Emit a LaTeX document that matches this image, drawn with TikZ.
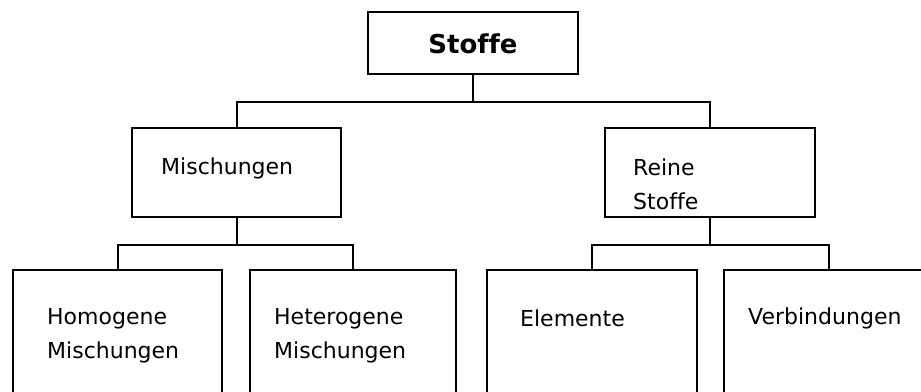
\documentclass[tikz,border=0pt]{standalone}
\usepackage{fontspec}
\setmainfont[Ligatures={NoCommon}]{DejaVu Sans}
\begin{document}
\begin{tikzpicture}[x=1pt,y=-1pt,
  box/.style={draw=black,line width=2.2pt,minimum width=#1,inner sep=0pt,anchor=north west},
  conn/.style={draw=black,line width=2.2pt},
  lbl/.style={inner sep=0pt,anchor=west,align=left,font=\fontsize{22}{34}\selectfont}]
\useasboundingbox[fill=white] (0,0) rectangle (921,391);
\begin{scope}
\clip (0,0) rectangle (921,391);
\node[box=210pt,minimum height=62pt] (stoffe) at (367,11) {};
\node[font=\bfseries\fontsize{26}{30}\selectfont,inner sep=0pt] at (473,44) {Stoffe};
\node[box=209pt,minimum height=89pt] (misch) at (131,127) {};
\node[box=210pt,minimum height=89pt] (reine) at (604,127) {};
\node[box=209pt,minimum height=140pt] (homo) at (12,269) {};
\node[box=206pt,minimum height=140pt] (hetero) at (249,269) {};
\node[box=210pt,minimum height=140pt] (elem) at (486,269) {};
\node[box=210pt,minimum height=140pt] (verb) at (723,269) {};
\node[lbl] (tmisch) at (161,168) {Mischungen};
\node[lbl] (treine) at (633,184) {Reine\\Stoffe};
\node[lbl] (thomo) at (47,336) {Homogene\\Mischungen};
\node[lbl] (thetero) at (274,336) {Heterogene\\Mischungen};
\node[lbl] (telem) at (520,318) {Elemente};
\node[lbl] (tverb) at (748,318) {Verbindungen};
\draw[conn] (stoffe.south) -- ++(0,27) -| (misch.north);
\draw[conn] (stoffe.south) -- ++(0,27) -| (reine.north);
\draw[conn] (misch.south) -- ++(0,27) -| (homo.north);
\draw[conn] (misch.south) -- ++(0,27) -| (hetero.north);
\draw[conn] (reine.south) -- ++(0,27) -| (elem.north);
\draw[conn] (reine.south) -- ++(0,27) -| (verb.north);
\end{scope}
\end{tikzpicture}
\end{document}
